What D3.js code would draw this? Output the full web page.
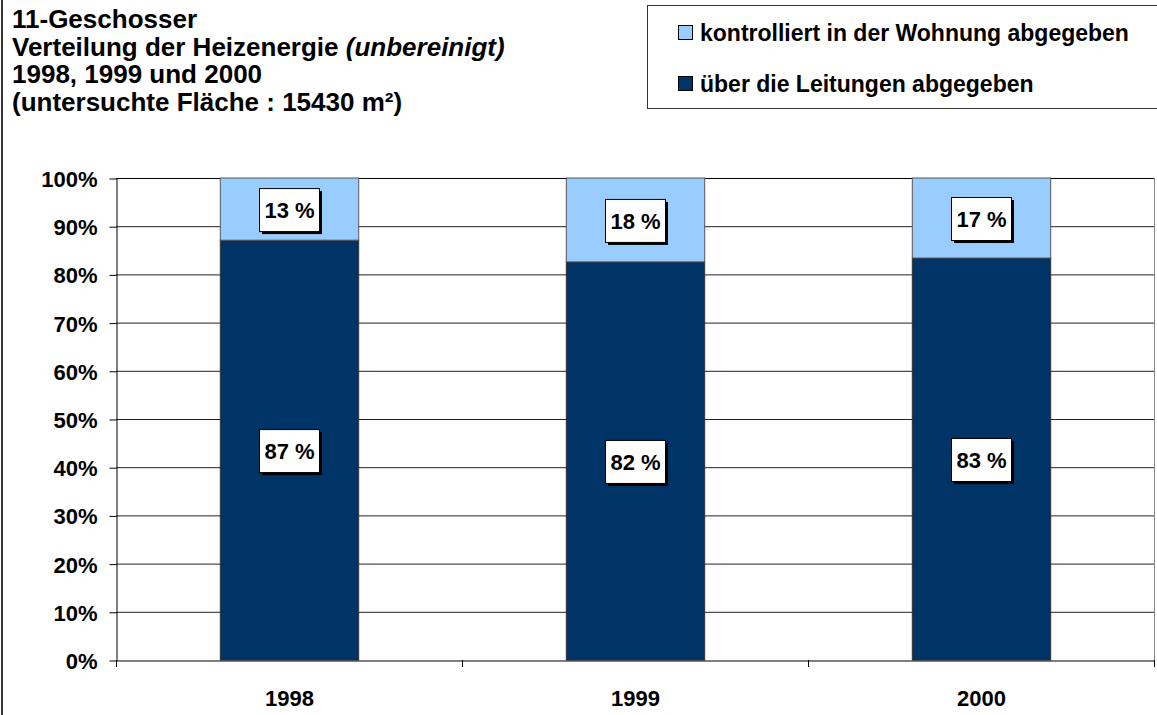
<!DOCTYPE html>
<html>
<head>
<meta charset="utf-8">
<script src="https://cdn.jsdelivr.net/npm/d3@7"></script>
<style>
  body{margin:0;background:#fff;}
  text{font-family:"Liberation Sans",Arial,sans-serif;font-weight:bold;}
</style>
</head>
<body>
<div id="container"></div>
<script>
let w=1157;
let h=715;

// data
let years = ["1998","1999","2000"];
let leitungen = [87.1, 82.6, 83.4];
let wohnung = [12.9, 17.4, 16.6];
let leitungenLabels = ["87 %","82 %","83 %"];
let wohnungLabels = ["13 %","18 %","17 %"];
let yTicks = [0,10,20,30,40,50,60,70,80,90,100];
let titleLines = ["11-Geschosser","Verteilung der Heizenergie","1998, 1999 und 2000","(untersuchte Fläche : 15430 m²)"];
let legendNames = ["kontrolliert in der Wohnung abgegeben","über die Leitungen abgegeben"];

let light = "#99CCFF";
let dark = "#003366";

let viz = d3.select("#container")
  .append("svg")
    .attr("width",w)
    .attr("height",h)
    .style("display","block")
;

// outer left border
viz.append("line")
  .attr("x1",2).attr("x2",2).attr("y1",0).attr("y2",h)
  .attr("stroke","#333").attr("stroke-width",2);

let margin = {left:116, top:178, right:1154, bottom:660};

let x = d3.scaleBand().domain(years).range([margin.left,margin.right]).paddingInner(0).paddingOuter(0);
let y = d3.scaleLinear().domain([0,100]).range([margin.bottom,margin.top]);

// gridlines
viz.append("g").selectAll("line").data(yTicks.filter(d=>d>0)).enter()
  .append("line")
    .attr("x1",margin.left).attr("x2",margin.right)
    .attr("y1",d=>y(d)+0.5).attr("y2",d=>y(d)+0.5)
    .attr("stroke",d=>d==100?"#000":"#222")
;

// plot right border
viz.append("line")
  .attr("x1",margin.right+0.5).attr("x2",margin.right+0.5)
  .attr("y1",margin.top).attr("y2",margin.bottom)
  .attr("stroke","#888");

// bars
let bw = x.bandwidth()*0.4;
let groups = viz.selectAll(".bar").data(years).enter()
  .append("g").attr("class","bar");

groups.append("rect")
  .attr("x",(d)=>x(d)+(x.bandwidth()-bw)/2+0.5)
  .attr("y",(d,i)=>y(leitungen[i]))
  .attr("width",bw)
  .attr("height",(d,i)=>y(0)-y(leitungen[i]))
  .attr("fill",dark)
  .attr("stroke","#333");

groups.append("rect")
  .attr("x",(d)=>x(d)+(x.bandwidth()-bw)/2+0.5)
  .attr("y",(d,i)=>y(leitungen[i]+wohnung[i]))
  .attr("width",bw)
  .attr("height",(d,i)=>y(leitungen[i])-y(leitungen[i]+wohnung[i]))
  .attr("fill",light)
  .attr("stroke","#555");

// value labels
function label(g,cx,cy,txt){
  let bx = cx-30, by = cy-21;
  g.append("rect").attr("x",bx+3).attr("y",by+3).attr("width",60).attr("height",43).attr("fill","#000");
  g.append("rect").attr("x",bx+0.5).attr("y",by+0.5).attr("width",60).attr("height",43)
    .attr("fill","#fff").attr("stroke","#000");
  g.append("text").attr("x",cx+0.5).attr("y",cy+9).attr("text-anchor","middle")
    .style("font-size","22px").text(txt);
}
groups.each(function(d,i){
  let g = d3.select(this);
  let cx = x(d)+x.bandwidth()/2;
  label(g,cx,(y(leitungen[i]+wohnung[i])+y(leitungen[i]))/2,wohnungLabels[i]);
  label(g,cx,(y(0)+y(leitungen[i]))/2,leitungenLabels[i]);
});

// y axis
let yAxis = viz.append("g")
  .attr("transform","translate("+(margin.left+0.5)+",0.5)")
  .call(d3.axisLeft(y).tickValues(yTicks).tickFormat(d=>d+"%").tickSize(7).tickSizeOuter(0));
yAxis.selectAll("text").style("font-size","22px").attr("x",-19).attr("fill","#000").attr("dy","0.36em");
yAxis.selectAll("line,path").attr("stroke","#000");

// x axis
let xAxis = viz.append("g")
  .attr("transform","translate(0.5,"+(margin.bottom+0.5)+")")
  .call(d3.axisBottom(x).tickSize(0).tickSizeOuter(0));
xAxis.select(".domain").attr("stroke","#000");
xAxis.selectAll("text").style("font-size","22px").attr("y",45).attr("dy",0).attr("fill","#000");
// category separators
viz.append("g").selectAll("line").data(years.concat(["end"])).enter()
  .append("line")
    .attr("x1",(d,i)=>(i<years.length?x(d):margin.right)+0.5)
    .attr("x2",(d,i)=>(i<years.length?x(d):margin.right)+0.5)
    .attr("y1",margin.bottom).attr("y2",margin.bottom+7)
    .attr("stroke","#000");

// title
let title = viz.append("text").attr("x",12).attr("y",28).style("font-size","26px");
titleLines.forEach((t,i)=>{
  title.append("tspan").attr("x",12).attr("y",28+i*27.7).text(t);
  if(i==1){
    title.append("tspan").style("font-style","italic").text(" (unbereinigt)");
  }
});

// legend
let legend = viz.append("g");
legend.append("rect").attr("x",647.5).attr("y",5.5).attr("width",520).attr("height",103)
  .attr("fill","#fff").attr("stroke","#333");
let legendColors = [light,dark];
legendNames.forEach((n,i)=>{
  legend.append("rect").attr("x",678.5).attr("y",25.5+i*51).attr("width",14).attr("height",14)
    .attr("fill",legendColors[i]).attr("stroke","#000");
  legend.append("text").attr("x",700).attr("y",41+i*51).style("font-size","23px").text(n);
});
</script>
</body>
</html>
